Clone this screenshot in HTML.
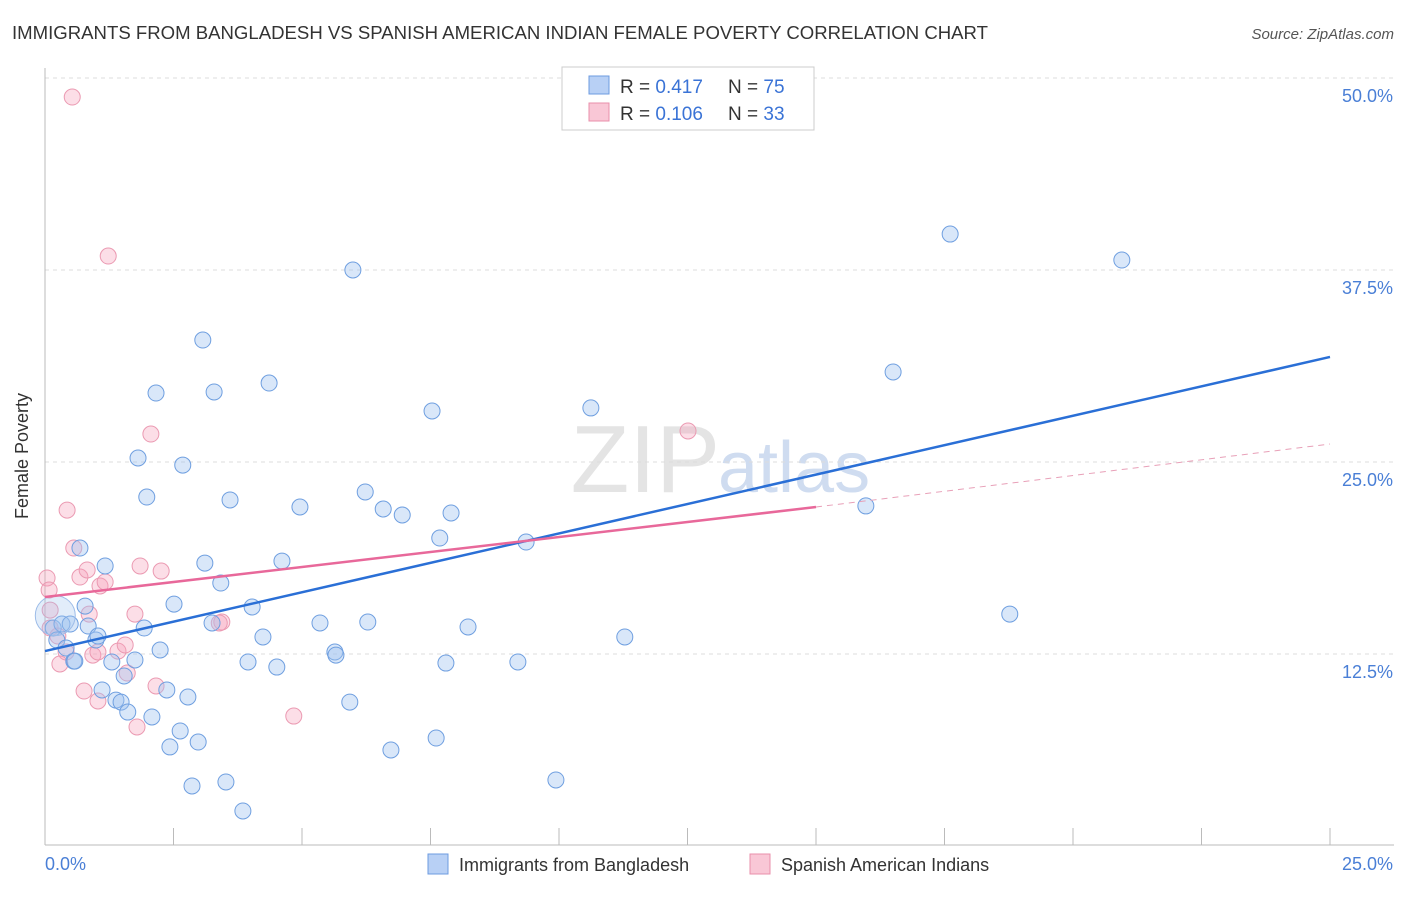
<!DOCTYPE html>
<html><head><meta charset="utf-8">
<style>
body{margin:0;background:#fff;font-family:"Liberation Sans",sans-serif;}
svg text{font-family:"Liberation Sans",sans-serif;}
</style></head>
<body>
<svg id="chart" width="1406" height="892">
<text x="12" y="39" font-size="18" fill="#333" textLength="976" lengthAdjust="spacingAndGlyphs">IMMIGRANTS FROM BANGLADESH VS SPANISH AMERICAN INDIAN FEMALE POVERTY CORRELATION CHART</text>
<text x="1394" y="39" font-size="15" fill="#555" font-style="italic" text-anchor="end">Source: ZipAtlas.com</text>
<text x="720" y="492" font-size="96" fill="#e4e4e4" text-anchor="end" font-family="Liberation Serif">ZIP</text>
<text x="718" y="492" font-size="72" fill="#cfdcf0">atlas</text>
<g id="grid"></g>
<line x1="45" y1="68" x2="45" y2="845" stroke="#bbb"/>
<line x1="45" y1="845" x2="1394" y2="845" stroke="#bbb"/>
<g id="ticks"></g>
<g id="pts"></g>
<g id="lines"></g>
<text x="28" y="456" font-size="18" fill="#333" text-anchor="middle" transform="rotate(-90 28 456)">Female Poverty</text>
<text x="45" y="870" font-size="18" fill="#4a7fd6">0.0%</text>
<text x="1393" y="870" font-size="18" fill="#4a7fd6" text-anchor="end">25.0%</text>
<g>
<rect x="562" y="67" width="252" height="63" fill="#fff" stroke="#ccc"/>
<rect x="589" y="76" width="20" height="18" fill="#b8d0f5" stroke="#6d9be0"/>
<rect x="589" y="103" width="20" height="18" fill="#f9c7d6" stroke="#e98fab"/>
<text x="620" y="93" font-size="19" fill="#333">R = <tspan fill="#3a73d6">0.417</tspan></text>
<text x="728" y="93" font-size="19" fill="#333">N = <tspan fill="#3a73d6">75</tspan></text>
<text x="620" y="120" font-size="19" fill="#333">R = <tspan fill="#3a73d6">0.106</tspan></text>
<text x="728" y="120" font-size="19" fill="#333">N = <tspan fill="#3a73d6">33</tspan></text>
</g>
<g>
<rect x="428" y="854" width="20" height="20" fill="#b8d0f5" stroke="#6d9be0"/>
<text x="459" y="871" font-size="18" fill="#333">Immigrants from Bangladesh</text>
<rect x="750" y="854" width="20" height="20" fill="#f9c7d6" stroke="#e98fab"/>
<text x="781" y="871" font-size="18" fill="#333">Spanish American Indians</text>
</g>
</svg>
<script>
const yTicks=[12.5,25.0,37.5,50.0];
const blueX=[0.16,0.23,0.33,0.41,0.49,0.56,0.68,0.78,0.84,0.99,1.03,1.11,1.17,1.30,1.38,1.48,1.54,1.61,1.75,1.81,1.93,1.98,2.08,2.16,2.24,2.37,2.43,2.51,2.63,2.68,2.78,2.86,2.98,3.07,3.11,3.25,3.29,3.42,3.52,3.60,3.85,3.95,4.03,4.24,4.36,4.51,4.61,4.96,5.35,5.64,5.66,5.93,5.99,6.23,6.28,6.58,6.73,6.95,7.53,7.61,7.68,7.80,7.90,8.23,9.20,9.36,9.94,10.62,11.28,15.97,16.50,17.61,18.77,20.95,0.58];
const blueY=[14.19,13.41,14.45,12.89,14.45,12.04,19.40,15.62,14.32,13.41,13.67,10.16,18.23,11.98,9.50,9.37,11.07,8.72,12.11,25.26,14.19,22.72,8.40,29.49,12.76,10.16,6.45,15.75,7.49,24.80,9.70,3.91,6.77,32.94,18.42,14.52,29.56,17.12,4.17,22.53,2.28,11.98,15.56,13.61,30.14,11.65,18.55,22.07,14.52,12.63,12.43,9.37,37.50,23.05,14.58,21.94,6.25,21.55,28.32,7.03,20.05,11.91,21.68,14.26,11.98,19.79,4.30,28.52,13.61,22.14,30.86,39.84,15.10,38.15,12.04];
const pinkX=[0.53,1.23,2.06,0.43,0.56,0.04,0.08,0.10,0.68,0.82,1.07,1.17,1.85,2.26,0.86,1.75,0.25,0.41,0.93,1.03,1.42,1.56,0.29,0.76,1.03,1.60,2.16,1.79,3.44,3.39,4.84,12.51,0.10];
const pinkY=[48.76,38.41,26.82,21.87,19.40,17.45,16.67,15.36,17.51,17.97,16.93,17.19,18.23,17.90,15.10,15.10,13.67,12.63,12.43,12.63,12.69,13.09,11.85,10.09,9.44,11.26,10.42,7.75,14.58,14.52,8.46,27.02,14.19];
const blueTrend=[12.69,31.84];
const pinkTrend=[16.21,22.07,26.17];
const xs=v=>45+v/25*1285, ys=v=>846-v/12.5*192;
const NS="http://www.w3.org/2000/svg";
function mk(tag,attrs,parent){const e=document.createElementNS(NS,tag);for(const k in attrs)e.setAttribute(k,attrs[k]);parent.appendChild(e);return e;}
const grid=document.getElementById('grid');
yTicks.forEach(t=>{
 const l=mk('line',{x1:45,x2:1394,y1:ys(t),y2:ys(t),stroke:'#ddd','stroke-dasharray':'4,4'},grid);
 
 
 const tx=mk('text',{x:1393,y:ys(t)+24,'font-size':18,fill:'#4a7fd6','text-anchor':'end'},grid);
 tx.textContent=t.toFixed(1)+'%';
 
 
});
const ticks=document.getElementById('ticks');
for(let i=1;i<=10;i++){const x=xs(i*2.5);
 const l=mk('line',{x1:x,x2:x,y1:828,y2:845,stroke:'#bbb'},ticks);
 
 }
const pts=document.getElementById('pts');
pinkX.forEach((v,i)=>{const c=mk('circle',{cx:xs(v),cy:ys(pinkY[i]),r:8,fill:'rgba(245,160,185,0.35)',stroke:'#eb9ab2','stroke-width':1},pts);
 
 });
blueX.forEach((v,i)=>{const c=mk('circle',{cx:xs(v),cy:ys(blueY[i]),r:8,fill:'rgba(160,195,240,0.4)',stroke:'#6f9fe0','stroke-width':1},pts);
 
 });
const big=mk('circle',{cx:xs(0.2),cy:ys(15.0),r:20,fill:'rgba(160,195,240,0.3)',stroke:'#9dbce8'},pts);


const lines=document.getElementById('lines');
const bl=mk('line',{x1:xs(0),y1:ys(blueTrend[0]),x2:xs(25),y2:ys(blueTrend[1]),stroke:'#2a6fd6','stroke-width':2.5},lines);


const pl=mk('line',{x1:xs(0),y1:ys(pinkTrend[0]),x2:xs(15),y2:ys(pinkTrend[1]),stroke:'#e8689a','stroke-width':2.5},lines);


const pd=mk('line',{x1:xs(15),y1:ys(pinkTrend[1]),x2:xs(25),y2:ys(pinkTrend[2]),stroke:'#e8a0b8','stroke-width':1,'stroke-dasharray':'6,5'},lines);


</script>
</body></html>
